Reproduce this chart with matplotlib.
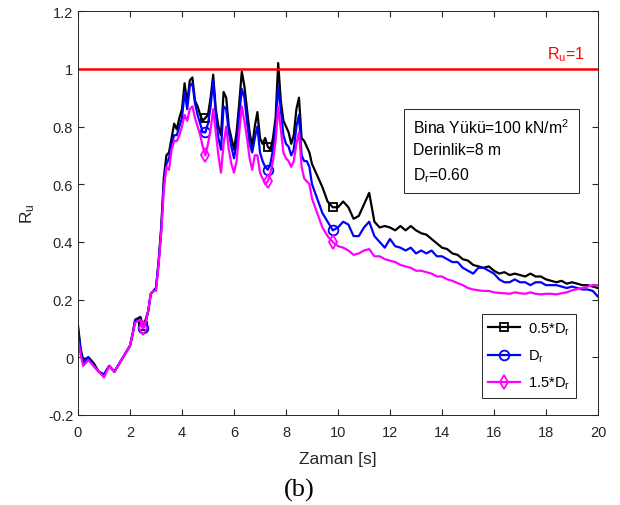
import numpy as np
from matplotlib import pyplot as plt

plt.rcParams['font.family'] = ['Liberation Sans', 'DejaVu Sans']
plt.rcParams['mathtext.default'] = 'regular'

# time samples [s]
t = [0, 0.1, 0.2, 0.4, 0.6, 0.8, 1.0, 1.2, 1.4, 1.6, 1.8, 2.0, 2.1, 2.2, 2.4, 2.5, 2.6, 2.7, 2.8, 2.9,
     3.0, 3.1, 3.2, 3.3, 3.4, 3.5, 3.6, 3.7, 3.8, 3.9, 4.0, 4.1, 4.2, 4.3, 4.4, 4.5, 4.6, 4.7, 4.8, 4.9,
     5.0, 5.1, 5.2, 5.3, 5.4, 5.5, 5.6, 5.7, 5.8, 5.9, 6.0, 6.1, 6.2, 6.3, 6.4, 6.5, 6.6, 6.7, 6.8, 6.9,
     7.0, 7.1, 7.2, 7.3, 7.4, 7.5, 7.6, 7.7, 7.8, 7.9, 8.0, 8.1, 8.2, 8.3, 8.4, 8.5, 8.6, 8.7, 8.8, 8.9,
     9.0, 9.2, 9.4, 9.6, 9.8, 10.0, 10.2, 10.4, 10.6, 10.8, 11.0, 11.2, 11.4, 11.6, 11.8, 12.0, 12.2, 12.4,
     12.6, 12.8, 13.0, 13.2, 13.4, 13.6, 13.8, 14.0, 14.2, 14.4, 14.6, 14.8, 15.0, 15.2, 15.4, 15.6, 15.8,
     16.0, 16.2, 16.4, 16.6, 16.8, 17.0, 17.2, 17.4, 17.6, 17.8, 18.0, 18.2, 18.4, 18.6, 18.8, 19.0, 19.2,
     19.4, 19.6, 19.8, 20.0]

# 0.5*Dr
ru_05 = [0.11, 0.03, -0.01, 0.00, -0.02, -0.05, -0.06, -0.03, -0.05, -0.02, 0.01, 0.04, 0.08, 0.13, 0.14, 0.11, 0.13, 0.16, 0.22, 0.23,
         0.24, 0.33, 0.45, 0.62, 0.70, 0.71, 0.76, 0.81, 0.79, 0.83, 0.86, 0.95, 0.88, 0.96, 0.97, 0.89, 0.87, 0.84, 0.82, 0.83,
         0.84, 0.90, 0.98, 0.86, 0.80, 0.77, 0.92, 0.90, 0.80, 0.76, 0.72, 0.78, 0.88, 0.99, 0.94, 0.86, 0.78, 0.73, 0.80, 0.85,
         0.76, 0.74, 0.76, 0.73, 0.72, 0.76, 0.83, 1.02, 0.89, 0.82, 0.80, 0.78, 0.74, 0.77, 0.86, 0.90, 0.76, 0.75, 0.73, 0.71,
         0.67, 0.63, 0.59, 0.54, 0.52, 0.52, 0.54, 0.52, 0.48, 0.49, 0.53, 0.57, 0.47, 0.45, 0.455, 0.45, 0.44, 0.455,
         0.44, 0.455, 0.44, 0.43, 0.425, 0.41, 0.395, 0.38, 0.375, 0.36, 0.355, 0.34, 0.335, 0.32, 0.315, 0.31, 0.315,
         0.30, 0.29, 0.295, 0.285, 0.29, 0.285, 0.28, 0.29, 0.28, 0.28, 0.27, 0.265, 0.26, 0.265, 0.255, 0.26, 0.255,
         0.25, 0.25, 0.245, 0.24]

# Dr
ru_10 = [0.10, 0.02, -0.02, 0.00, -0.03, -0.05, -0.06, -0.03, -0.05, -0.02, 0.01, 0.04, 0.08, 0.13, 0.13, 0.10, 0.12, 0.16, 0.22, 0.23,
         0.24, 0.33, 0.44, 0.60, 0.67, 0.69, 0.74, 0.77, 0.77, 0.80, 0.83, 0.92, 0.86, 0.94, 0.95, 0.88, 0.84, 0.81, 0.78, 0.78,
         0.81, 0.87, 0.96, 0.84, 0.76, 0.72, 0.87, 0.86, 0.78, 0.73, 0.69, 0.74, 0.84, 0.93, 0.90, 0.82, 0.74, 0.71, 0.76, 0.80,
         0.71, 0.68, 0.66, 0.65, 0.67, 0.72, 0.80, 0.94, 0.86, 0.77, 0.74, 0.73, 0.70, 0.72, 0.80, 0.84, 0.70, 0.68, 0.68, 0.66,
         0.60, 0.55, 0.50, 0.47, 0.44, 0.45, 0.47, 0.46, 0.42, 0.42, 0.45, 0.47, 0.42, 0.40, 0.38, 0.41, 0.385, 0.38,
         0.37, 0.38, 0.36, 0.37, 0.36, 0.37, 0.35, 0.35, 0.34, 0.33, 0.33, 0.31, 0.30, 0.29, 0.31, 0.31, 0.30,
         0.29, 0.27, 0.26, 0.26, 0.27, 0.26, 0.26, 0.25, 0.26, 0.26, 0.25, 0.25, 0.25, 0.245, 0.24, 0.245, 0.24,
         0.235, 0.235, 0.23, 0.21]

# 1.5*Dr
ru_15 = [0.06, 0.01, -0.03, -0.01, -0.03, -0.05, -0.07, -0.03, -0.05, -0.02, 0.01, 0.04, 0.08, 0.12, 0.13, 0.10, 0.12, 0.16, 0.22, 0.23,
         0.23, 0.32, 0.43, 0.58, 0.66, 0.65, 0.72, 0.75, 0.75, 0.77, 0.80, 0.84, 0.82, 0.86, 0.87, 0.83, 0.80, 0.77, 0.73, 0.70,
         0.74, 0.79, 0.86, 0.78, 0.70, 0.64, 0.74, 0.80, 0.72, 0.67, 0.64, 0.68, 0.78, 0.87, 0.82, 0.76, 0.69, 0.65, 0.70, 0.70,
         0.64, 0.62, 0.60, 0.61, 0.64, 0.68, 0.75, 0.87, 0.79, 0.71, 0.69, 0.68, 0.66, 0.68, 0.74, 0.78, 0.66, 0.62, 0.61, 0.60,
         0.55, 0.50, 0.45, 0.42, 0.40, 0.385, 0.38, 0.37, 0.355, 0.36, 0.37, 0.375, 0.35, 0.35, 0.34, 0.335, 0.33, 0.32,
         0.315, 0.31, 0.30, 0.30, 0.295, 0.29, 0.28, 0.28, 0.27, 0.265, 0.257, 0.25, 0.24, 0.235, 0.232, 0.23, 0.23,
         0.225, 0.223, 0.222, 0.22, 0.225, 0.222, 0.22, 0.225, 0.22, 0.218, 0.22, 0.22, 0.218, 0.222, 0.225, 0.232, 0.236,
         0.24, 0.245, 0.25, 0.25]

marker_times = [2.5, 4.9, 7.3, 9.8]
mk = [t.index(m) for m in marker_times]

fig = plt.figure(figsize=(6.2, 5.06), dpi=100)
ax = fig.add_axes([0.1258, 0.178, 0.8387, 0.798])

ax.plot(t, ru_05, color='black', lw=1.6, marker='s', ms=6, mfc='none', mew=1.3,
        markevery=mk, label='0.5*D$_r$')
ax.plot(t, ru_10, color='blue', lw=1.6, marker='o', ms=7, mfc='none', mew=1.3,
        markevery=mk, label='D$_r$')
ax.plot(t, ru_15, color='magenta', lw=1.6, marker='d', ms=7, mfc='none', mew=1.3,
        markevery=mk, label='1.5*D$_r$')
ax.axhline(1, color='red', lw=1.8)

ax.set_xlim(0, 20)
ax.set_ylim(-0.2, 1.2)
ax.set_xticks(range(0, 21, 2))
ax.set_yticks([-0.2, 0, 0.2, 0.4, 0.6, 0.8, 1, 1.2])
ax.set_yticklabels(['-0.2', '0', '0.2', '0.4', '0.6', '0.8', '1', '1.2'])
ax.tick_params(direction='in', top=True, right=True, labelsize=10.5, colors='#262626', length=4)
ax.tick_params(axis='x', pad=7)
for s in ax.spines.values():
    s.set_color('#262626')
    s.set_linewidth(0.7)

ax.set_xlabel('Zaman [s]', fontsize=12.5, color='#262626', labelpad=9)
ax.set_ylabel('R$_u$', fontsize=12.5, color='#262626', labelpad=8)

ax.text(19.5, 1.036, 'R$_u$=1', color='red', fontsize=11.5, ha='right', va='baseline')

ax.text(12.9, 0.717, 'Bina Yükü=100 kN/m$^2$\nDerinlik=8 m\nD$_r$=0.60', fontsize=11.3, va='center', ha='left',
        linespacing=1.55,
        bbox=dict(boxstyle='square,pad=0.6', fc='white', ec='#262626', lw=0.7))

leg = ax.legend(loc='lower right', bbox_to_anchor=(0.958, 0.042), fontsize=10.5, fancybox=False,
                edgecolor='#262626', handlelength=2.2, borderpad=0.45, labelspacing=0.75, framealpha=1,
                handletextpad=0.5, borderaxespad=0)
leg.get_frame().set_linewidth(0.7)

fig.text(0.482, 0.03, '(b)', fontsize=19, family='Liberation Serif', ha='center', va='center')

fig.savefig('out.png', dpi=100)
